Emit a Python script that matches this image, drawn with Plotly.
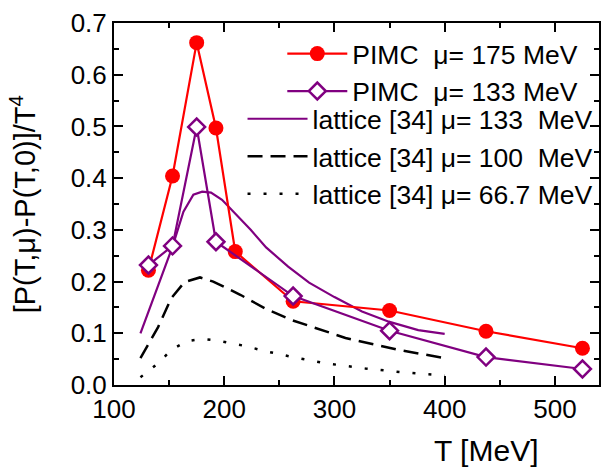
import plotly.graph_objects as go

# ---- data ----
T_pimc175 = [131.25, 153.1, 175, 192.5, 210, 262.5, 350, 437.5, 525]
P_pimc175 = [0.222, 0.404, 0.662, 0.497, 0.258, 0.162, 0.144, 0.104, 0.071]

T_pimc133 = [131.25, 153.1, 175, 192.5, 262.5, 350, 437.5, 525]
P_pimc133 = [0.232, 0.269, 0.499, 0.277, 0.172, 0.105, 0.054, 0.031]

T_lat133 = [124, 140, 153, 163, 172, 180, 188, 198, 210, 224, 238, 258, 277, 300, 325, 350, 376, 400]
P_lat133 = [0.100, 0.190, 0.267, 0.335, 0.368, 0.374, 0.372, 0.358, 0.332, 0.300, 0.266, 0.229, 0.198,
            0.170, 0.142, 0.122, 0.106, 0.099]

T_lat100 = [124, 140, 152, 164, 178, 190, 215, 238, 262, 310, 358, 400]
P_lat100 = [0.052, 0.112, 0.168, 0.199, 0.208, 0.200, 0.174, 0.147, 0.125, 0.091, 0.068, 0.052]

T_lat667 = [124, 140, 152, 166, 180, 194, 220, 236, 262, 292, 328, 360, 400]
P_lat667 = [0.015, 0.042, 0.068, 0.085, 0.089, 0.086, 0.075, 0.066, 0.054, 0.042, 0.032, 0.025, 0.018]

names = ["PIMC\u00a0\u00a0\u03bc= 175 MeV",
         "PIMC\u00a0\u00a0\u03bc= 133 MeV",
         "lattice [34] \u03bc= 133\u00a0\u00a0MeV",
         "lattice [34] \u03bc= 100\u00a0\u00a0MeV",
         "lattice [34] \u03bc= 66.7 MeV"]

RED = "#ff0000"
PURPLE = "#800080"
FONT = "Arial, Liberation Sans, sans-serif"

fig = go.Figure()
fig.add_trace(go.Scatter(x=T_lat133, y=P_lat133, mode="lines", name=names[2], legend="legend2",
                         line=dict(color=PURPLE, width=2.2)))
fig.add_trace(go.Scatter(x=T_lat100, y=P_lat100, mode="lines", name=names[3], legend="legend2",
                         line=dict(color="black", width=2.5, dash="15px,8px")))
fig.add_trace(go.Scatter(x=T_lat667, y=P_lat667, mode="lines", name=names[4], legend="legend2",
                         line=dict(color="black", width=2.5, dash="3px,13px")))
fig.add_trace(go.Scatter(x=T_pimc175, y=P_pimc175, mode="lines+markers", name=names[0], legend="legend",
                         line=dict(color=RED, width=2.2),
                         marker=dict(symbol="circle", size=15, color=RED)))
fig.add_trace(go.Scatter(x=T_pimc133, y=P_pimc133, mode="lines+markers", name=names[1], legend="legend",
                         line=dict(color=PURPLE, width=2.2),
                         marker=dict(symbol="diamond", size=13, color="white",
                                     line=dict(color=PURPLE, width=2.5))))

axis_common = dict(showline=True, linewidth=2, linecolor="black", mirror="allticks",
                   ticks="inside", ticklen=9, tickwidth=2, tickcolor="black",
                   showgrid=False, zeroline=False,
                   tickfont=dict(family=FONT, size=26, color="black"))

fig.update_xaxes(range=[100, 540], tickmode="linear", tick0=100, dtick=100,
                 minor=dict(ticks="inside", ticklen=5, tickwidth=2, dtick=50, tick0=100,
                            tickcolor="black", showgrid=False),
                 **axis_common)
fig.update_yaxes(range=[0, 0.7], tickmode="linear", tick0=0, dtick=0.1, tickformat=".1f",
                 minor=dict(ticks="inside", ticklen=5, tickwidth=2, dtick=0.05, tick0=0,
                            tickcolor="black", showgrid=False),
                 **axis_common)

legend_font = dict(family=FONT, size=26.5, color="black")
fig.update_layout(
    width=603, height=467,
    margin=dict(l=114, r=2, t=23, b=82),
    paper_bgcolor="white", plot_bgcolor="white",
    legend=dict(x=0.347, y=0.981, xanchor="left", yanchor="top", bgcolor="rgba(0,0,0,0)",
                font=legend_font, itemwidth=60, tracegroupgap=0, traceorder="normal"),
    legend2=dict(x=0.265, y=0.801, xanchor="left", yanchor="top", bgcolor="rgba(0,0,0,0)",
                 font=legend_font, itemwidth=60, tracegroupgap=0, traceorder="normal"),
    annotations=[
        dict(text="[P(T,\u03bc)-P(T,0)]/T<sup>4</sup>", xref="paper", yref="paper",
             x=-0.187, y=0.5, xanchor="center", yanchor="middle", textangle=-90,
             showarrow=False, font=dict(family=FONT, size=29, color="black")),
        dict(text="T [MeV]", xref="paper", yref="paper", x=0.768, y=-0.18,
             xanchor="center", yanchor="middle", showarrow=False,
             font=dict(family=FONT, size=30, color="black")),
    ],
)

fig.write_html("out.html")
